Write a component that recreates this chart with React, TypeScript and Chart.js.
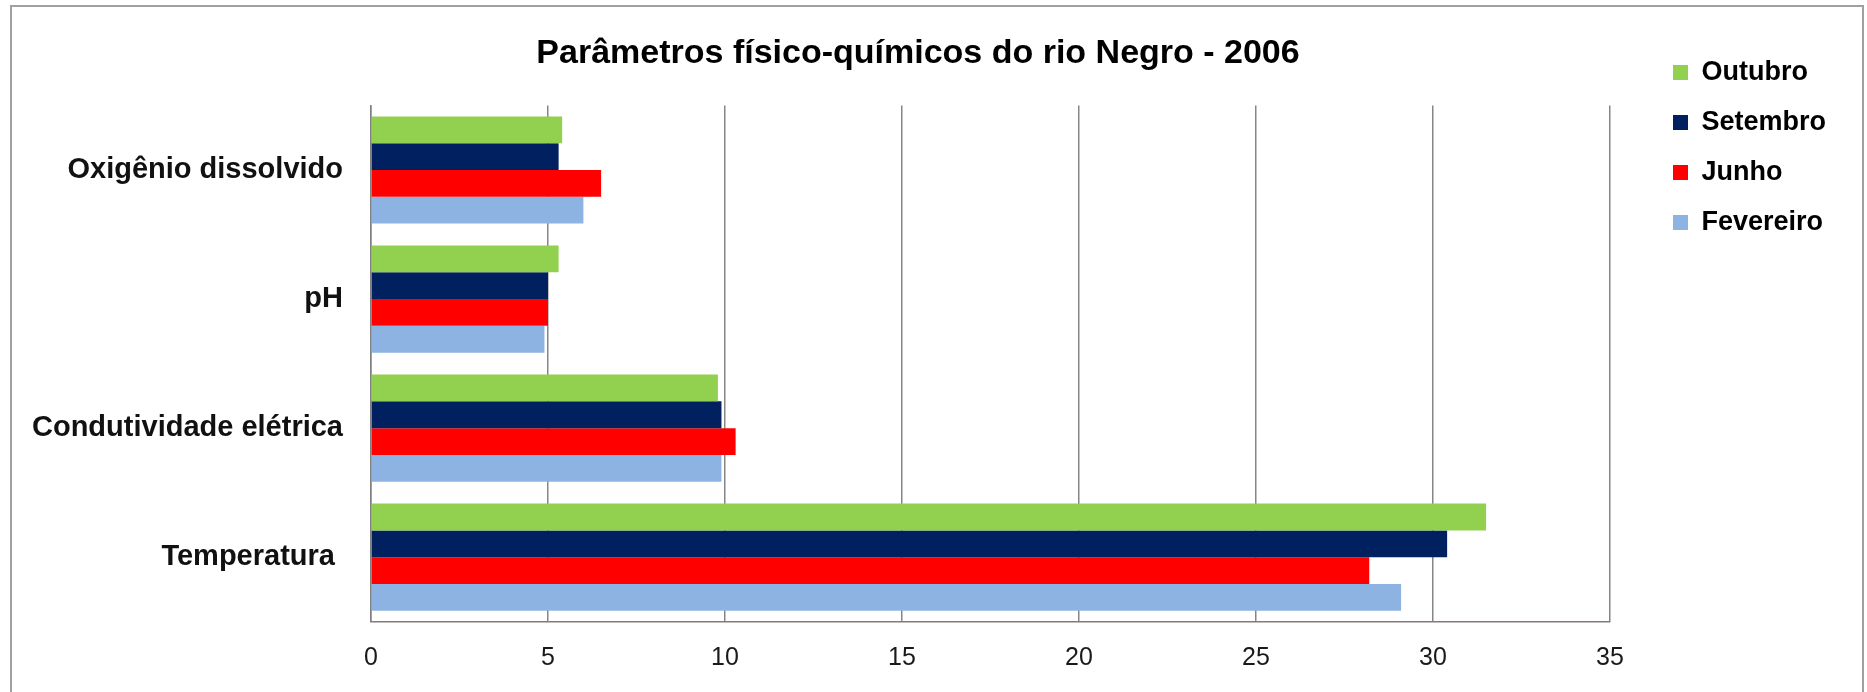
import React, { useEffect, useRef } from 'react';
import { Chart, registerables } from 'chart.js';

Chart.register(...registerables);

// ---- data ----
const categories: string[] = ['Oxigênio dissolvido', 'pH', 'Condutividade elétrica', 'Temperatura '];
const seriesNames: string[] = ['Outubro', 'Setembro', 'Junho', 'Fevereiro'];
const outubro: number[] = [5.4, 5.3, 9.8, 31.5];
const setembro: number[] = [5.3, 5.0, 9.9, 30.4];
const junho: number[] = [6.5, 5.0, 10.3, 28.2];
const fevereiro: number[] = [6.0, 4.9, 9.9, 29.1];
const seriesColors: string[] = ['#92D050', '#002060', '#FF0000', '#8DB3E2'];
const xTickValues: number[] = [0, 5, 10, 15, 20, 25, 30, 35];
const chartTitle = 'Parâmetros físico-químicos do rio Negro - 2006';

// ---- layout constants ----
const W = 1867;
const H = 692;
const FONT = "'Liberation Sans', Arial, Helvetica, sans-serif";
const PLOT_LEFT = 371;
const PLOT_RIGHT = 1609;
const PLOT_TOP = 105.5;
const PLOT_BOTTOM = 621.7;
const PAD_LEFT = 20;
const PAD_RIGHT = 71;
const TITLE_SIZE = 34;
const TITLE_CENTER_X = 918;
const TITLE_CENTER_Y = 54;
const LEGEND_LEFT = 1650;
const LEGEND_TOP = 36;

const boxPlacer = {
  id: 'boxPlacer',
  afterLayout(chart: any) {
    const lg = chart.legend;
    if (lg) {
      lg.left = LEGEND_LEFT;
      lg.right = W;
      lg.width = W - LEGEND_LEFT;
      lg.top = LEGEND_TOP;
      lg.bottom = H;
      lg.height = H - LEGEND_TOP;
    }
    const tb = chart.titleBlock;
    if (tb) {
      tb.left = 0;
      tb.right = TITLE_CENTER_X * 2;
      tb.width = TITLE_CENTER_X * 2;
    }
  },
};

export default function App() {
  const canvasRef = useRef<HTMLCanvasElement | null>(null);

  useEffect(() => {
    const canvas = canvasRef.current;
    if (!canvas) return;
    const seriesData = [outubro, setembro, junho, fevereiro];
    const titleLine = TITLE_SIZE * 1.2;
    const titlePadTop = TITLE_CENTER_Y - titleLine / 2;
    const titlePadBottom = PLOT_TOP - titlePadTop - titleLine;

    const chart = new Chart(canvas, {
      type: 'bar',
      data: {
        labels: categories,
        datasets: seriesNames.map((name, i) => ({
          label: name,
          data: seriesData[i],
          backgroundColor: seriesColors[i],
          borderWidth: 0,
          categoryPercentage: 0.83,
          barPercentage: 1.0,
        })),
      },
      options: {
        indexAxis: 'y',
        responsive: false,
        animation: false,
        devicePixelRatio: 1,
        layout: { padding: { left: PAD_LEFT, right: PAD_RIGHT, top: 0, bottom: 0 } },
        plugins: {
          title: {
            display: true,
            text: chartTitle,
            color: '#000000',
            font: { family: FONT, size: TITLE_SIZE, weight: 'bold', lineHeight: 1.2 },
            padding: { top: titlePadTop, bottom: titlePadBottom },
          },
          legend: {
            display: true,
            position: 'right',
            align: 'start',
            maxWidth: W - PAD_RIGHT - PLOT_RIGHT,
            labels: {
              boxWidth: 15,
              boxHeight: 15,
              padding: 23,
              color: '#000000',
              font: { family: FONT, size: 27, weight: 'bold' },
            },
          },
          tooltip: { enabled: false },
        },
        scales: {
          x: {
            type: 'linear',
            position: 'bottom',
            min: 0,
            max: 35,
            afterBuildTicks: (scale: any) => {
              scale.ticks = xTickValues.map((v) => ({ value: v }));
            },
            afterFit: (scale: any) => {
              scale.height = H - PLOT_BOTTOM;
            },
            grid: {
              display: true,
              color: '#868686',
              lineWidth: 1.5,
              drawTicks: false,
            },
            border: { display: true, color: '#857a7a', width: 1.5 },
            ticks: {
              padding: 21,
              color: '#1a1a1a',
              font: { family: FONT, size: 25 },
              maxRotation: 0,
            },
          },
          y: {
            type: 'category',
            position: 'left',
            afterFit: (scale: any) => {
              scale.width = PLOT_LEFT - PAD_LEFT;
            },
            grid: { display: false, drawTicks: false },
            border: { display: true, color: '#808080', width: 1.5 },
            ticks: {
              padding: 28,
              color: '#111111',
              font: { family: FONT, size: 29, weight: 'bold' },
            },
          },
        },
      },
      plugins: [boxPlacer],
    } as any);

    return () => {
      chart.destroy();
    };
  }, []);

  return (
    <div style={{ position: 'fixed', left: 0, top: 0, width: W, height: H, background: '#ffffff', overflow: 'hidden' }}>
      <canvas ref={canvasRef} width={W} height={H} style={{ display: 'block', width: W, height: H }} />
      <div
        style={{
          position: 'absolute',
          left: 10,
          top: 5,
          width: 1854,
          height: 720,
          boxSizing: 'border-box',
          borderTop: '2px solid #a0a0a0',
          borderLeft: '2px solid #a0a0a0',
          borderRight: '2px solid #a0a0a0',
          borderBottom: 'none',
          pointerEvents: 'none',
        }}
      />
    </div>
  );
}
